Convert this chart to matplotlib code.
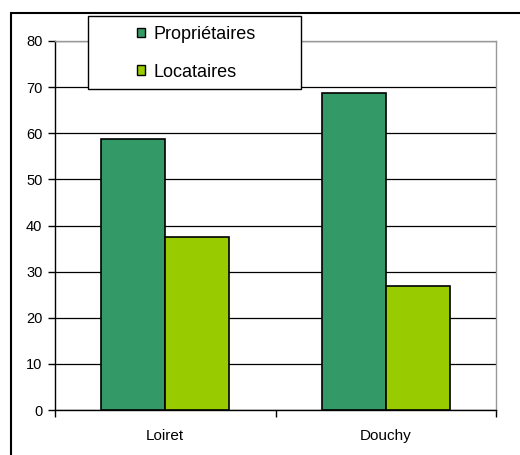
import matplotlib
matplotlib.use("Agg")
import matplotlib.pyplot as plt
import numpy as np
from matplotlib.patches import Rectangle, Patch

plt.rcParams['font.family'] = ['Liberation Sans', 'DejaVu Sans']

categories = ["Loiret", "Douchy"]
series_names = ["Propriétaires", "Locataires"]
proprietaires = [58.8, 68.7]
locataires = [37.6, 26.8]
colors = ["#339966", "#99cc00"]
y_ticks = [0, 10, 20, 30, 40, 50, 60, 70, 80]

W, H = 520, 455
fig = plt.figure(figsize=(W / 100, H / 100), dpi=100)
ax = fig.add_axes([55 / W, 1 - 410 / H, (496 - 55) / W, (410 - 41) / H])

x = np.arange(len(categories))
bw = 0.29
ax.bar(x - bw / 2, proprietaires, bw, color=colors[0], edgecolor="black", linewidth=1.2, zorder=3)
ax.bar(x + bw / 2, locataires, bw, color=colors[1], edgecolor="black", linewidth=1.2, zorder=3)

ax.set_xlim(-0.5, len(categories) - 0.5)
ax.set_ylim(0, 80)
ax.set_yticks(y_ticks)
ax.yaxis.grid(True, color="black", linewidth=0.9, zorder=0)
ax.set_axisbelow(True)

# category labels centred, tick marks at the category boundaries
ax.set_xticks(x)
ax.set_xticklabels(categories, fontsize=11)
ax.tick_params(axis="x", length=0, pad=14)
ax.set_xticks(np.arange(-0.5, len(categories)), minor=True)
ax.tick_params(axis="x", which="minor", length=5, width=1, color="black")
ax.tick_params(axis="y", labelsize=10.5, length=5, width=1, pad=4)

for side in ["top", "right"]:
    ax.spines[side].set_color("#999999")
    ax.spines[side].set_linewidth(1)
for side in ["left", "bottom"]:
    ax.spines[side].set_color("black")
    ax.spines[side].set_linewidth(1)

# outer chart frame
fig.patches.append(Rectangle((11 / W, -0.2), 1.0, 1 - 13 / H + 0.2, transform=fig.transFigure,
                             fill=False, edgecolor="black", linewidth=1.5, zorder=10))

# legend box
fig.patches.append(Rectangle((88 / W, 1 - 89 / H), (301 - 88) / W, (89 - 16) / H,
                             transform=fig.transFigure, facecolor="white", edgecolor="black",
                             linewidth=1.0, zorder=10))
handles = [Patch(facecolor=c, edgecolor="black", linewidth=1) for c in colors]
leg = fig.legend(handles, series_names, loc="upper left",
                 bbox_to_anchor=(137 / W, 1 - 26 / H), frameon=False,
                 fontsize=13, handlelength=0.45, handleheight=0.45,
                 handletextpad=0.45, labelspacing=1.15, borderpad=0.0,
                 borderaxespad=0.0)
leg.set_zorder(11)

fig.savefig("out.png", dpi=100)
